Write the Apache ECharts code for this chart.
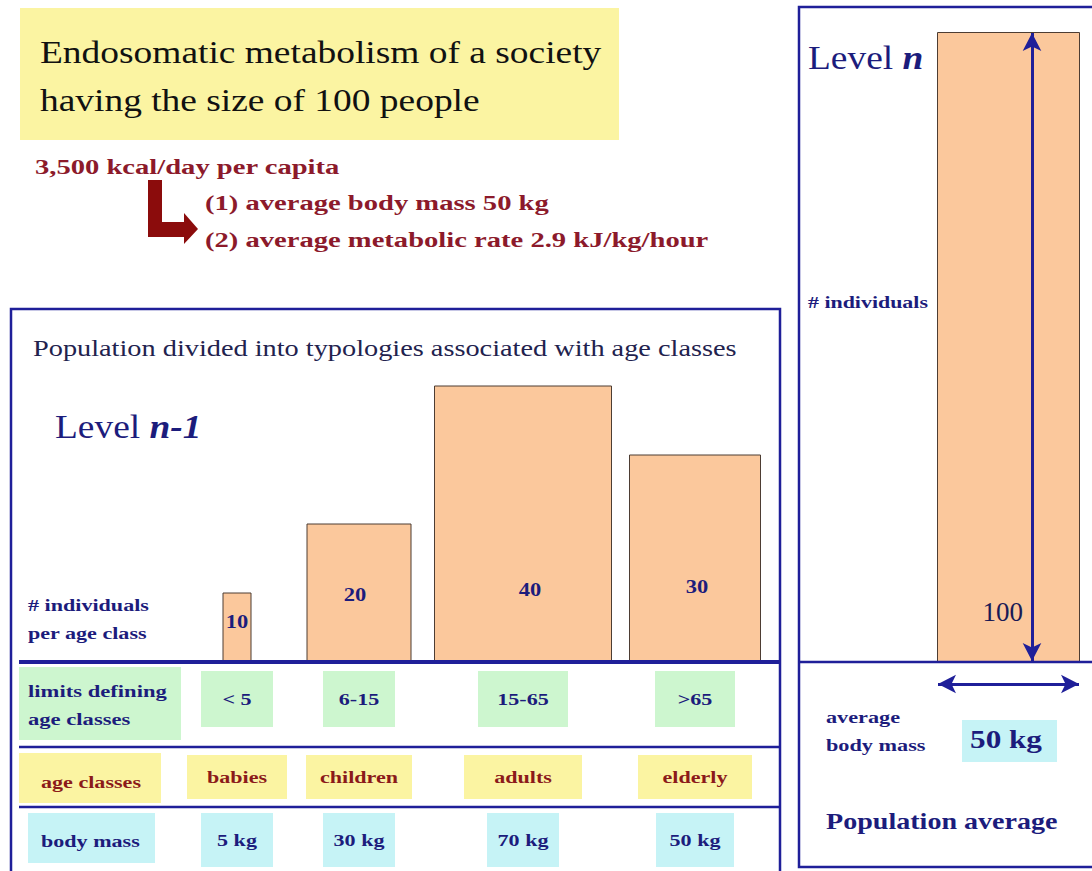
<!DOCTYPE html>
<html>
<head>
<meta charset="utf-8">
<script src="https://cdn.jsdelivr.net/npm/echarts@6/dist/echarts.min.js"></script>
<style>
  html, body { margin: 0; padding: 0; background: #fff; }
  #chart { width: 1092px; height: 871px; }
</style>
</head>
<body>
<div id="chart"></div>
<script>
// Level n-1: population split into age classes
const ageClasses = ['babies', 'children', 'adults', 'elderly'];
const ageLimits = ['< 5', '6-15', '15-65', '>65'];
const bodyMassKg = [5, 30, 70, 50];
const individuals = [10, 20, 40, 30];

// Level n: the whole society
const populationTotal = [100];
const averageBodyMassKg = 50;

// layout (pixels) — kept apart from the data
const barCenters = [237, 359, 523, 695];
const barWidths = [28, 104, 177, 131];
const labelLift = [40, 67, 72, 75];
const labelShift = [0, -4, 7, 2];
const limitBoxW = [72, 72, 90, 80];
const classBoxW = [100, 106, 118, 114];
const massBoxW = [72, 72, 72, 78];

const SERIF = "'Liberation Serif', 'DejaVu Serif', serif";
const NAVY = '#1f1f99';
const NAVY_TXT = '#1c1c7c';
const RED = '#8c1a2b';
const PEACH = '#fbc89c';
const YELLOW = '#fbf4a2';
const GREEN = '#cdf6cf';
const CYAN = '#c6f3f6';
const WIDE = 1.3; // the slide's bold labels are stretched sideways

const chart = echarts.init(document.getElementById('chart'), null, { renderer: 'svg' });

function txt(text, x, y, size, color, opts = {}) {
  return {
    type: 'text', z: 20, x, y, scaleX: opts.sx || 1,
    style: Object.assign({
      text, fill: color, font: `${opts.weight || 'normal'} ${size}px ${SERIF}`,
      align: opts.align || 'left', verticalAlign: 'middle', lineHeight: opts.lineHeight || size * 1.2,
    }, opts.style || {}),
  };
}
function box(x, y, w, h, fill) {
  return { type: 'rect', z: 5, shape: { x, y, width: w, height: h }, style: { fill } };
}
function line(x1, y1, x2, y2, width) {
  return { type: 'line', z: 30, shape: { x1, y1, x2, y2 }, style: { stroke: NAVY, lineWidth: width } };
}
function level(text, x, y) {
  return {
    type: 'text', z: 20, x, y, scaleX: 1.1,
    style: {
      text, fill: NAVY_TXT, font: `34px ${SERIF}`, verticalAlign: 'middle',
      rich: { b: { fontFamily: SERIF, fontSize: 34, fontWeight: 'bold', fontStyle: 'italic', fill: NAVY_TXT } },
    },
  };
}

const graphic = [
  // title
  box(20, 8, 599, 132, YELLOW),
  txt('Endosomatic metabolism of a society', 40, 52, 32, '#111', { sx: 1.17 }),
  txt('having the size of 100 people', 40, 100, 32, '#111', { sx: 1.17 }),
  // per capita
  txt('3,500 kcal/day per capita', 35, 167, 22, RED, { weight: 'bold', sx: WIDE }),
  txt('(1) average body mass 50 kg', 205, 203, 22, RED, { weight: 'bold', sx: WIDE }),
  txt('(2) average metabolic rate 2.9 kJ/kg/hour', 205, 240, 22, RED, { weight: 'bold', sx: WIDE }),
  {
    type: 'polygon', z: 20,
    shape: { points: [[148, 180], [162, 180], [162, 222], [184, 222], [184, 213], [198, 229], [184, 244], [184, 237], [148, 237]] },
    style: { fill: '#8b0c0c' },
  },

  // left panel
  { type: 'rect', z: 30, shape: { x: 11, y: 309, width: 769, height: 580 }, style: { fill: 'none', stroke: NAVY, lineWidth: 2.5 } },
  txt('Population divided into typologies associated with age classes', 33, 348, 24, '#22224e', { sx: 1.18 }),
  level('Level {b|n-1}', 55, 427),
  txt('# individuals\nper age class', 28, 619, 17, NAVY_TXT, { weight: 'bold', lineHeight: 28, sx: WIDE }),
  line(19, 662, 779, 662, 4),
  line(19, 747, 779, 747, 2.5),
  line(19, 807, 779, 807, 2.5),
  box(19, 667, 162, 73, GREEN),
  txt('limits defining\nage classes', 28, 705, 17, NAVY_TXT, { weight: 'bold', lineHeight: 28, sx: 1.33 }),
  box(19, 753, 142, 50, YELLOW),
  txt('age classes', 41, 782, 17, '#8b1a1a', { weight: 'bold', sx: WIDE }),
  box(28, 813, 127, 50, CYAN),
  txt('body mass', 41, 841, 17, NAVY_TXT, { weight: 'bold', sx: WIDE }),

  // right panel
  { type: 'rect', z: 30, shape: { x: 799, y: 7, width: 300, height: 860 }, style: { fill: 'none', stroke: NAVY, lineWidth: 2.5 } },
  line(799, 662, 1092, 662, 2.5),
  level('Level {b|n}', 808, 58),
  txt('# individuals', 808, 303, 16, NAVY_TXT, { weight: 'bold', sx: 1.37 }),
  txt('average\nbody mass', 826, 732, 16, NAVY_TXT, { weight: 'bold', lineHeight: 28, sx: 1.39 }),
  box(962, 720, 95, 42, CYAN),
  txt(averageBodyMassKg + ' kg', 1006, 739, 26, NAVY_TXT, { weight: 'bold', align: 'center', sx: 1.2 }),
  txt('Population average', 826, 821, 24, NAVY_TXT, { weight: 'bold', sx: 1.17 }),
];

function barItem(params, api) {
  const i = params.dataIndex;
  const top = api.coord([api.value(0), api.value(1)]);
  const base = api.coord([api.value(0), 0]);
  const w = barWidths[i];
  return {
    type: 'group',
    children: [
      {
        type: 'rect',
        shape: { x: top[0] - w / 2, y: top[1], width: w, height: base[1] - top[1] },
        style: { fill: PEACH, stroke: '#4d3d33', lineWidth: 1 },
      },
      {
        type: 'text', z2: 10,
        x: top[0] + labelShift[i], y: base[1] - labelLift[i], scaleX: 1.25,
        style: {
          text: String(api.value(1)), x: 0, y: 0,
          align: 'center', verticalAlign: 'middle', fill: NAVY_TXT,
          font: `bold 18px ${SERIF}`,
        },
      },
    ],
  };
}

function cell(cx, cy, w, h, fill, text, color) {
  return [
    { type: 'rect', shape: { x: cx - w / 2, y: cy - h / 2, width: w, height: h }, style: { fill } },
    {
      type: 'text', z2: 10, x: cx, y: cy, scaleX: WIDE,
      style: { text, x: 0, y: 0, align: 'center', verticalAlign: 'middle', fill: color, font: `bold 17px ${SERIF}` },
    },
  ];
}

function tableItem(params, api) {
  const i = params.dataIndex;
  const cx = api.coord([api.value(0), 0])[0];
  return {
    type: 'group',
    children: [
      ...cell(cx, 699, limitBoxW[i], 56, GREEN, ageLimits[i], NAVY_TXT),
      ...cell(cx, 777, classBoxW[i], 44, YELLOW, ageClasses[i], '#8b1a1a'),
      ...cell(cx, 840, massBoxW[i], 54, CYAN, bodyMassKg[i] + ' kg', NAVY_TXT),
    ],
  };
}

chart.setOption({
  animation: false,
  backgroundColor: '#fff',
  grid: [
    { left: 0, right: 0, top: 386, bottom: 209 },
    { left: 937, right: 12, top: 32, bottom: 209 },
  ],
  xAxis: [
    { type: 'value', gridIndex: 0, min: 0, max: 1092, show: false },
    { type: 'category', gridIndex: 1, data: ['Population average'], show: false },
  ],
  yAxis: [
    { type: 'value', gridIndex: 0, min: 0, max: 40, show: false },
    { type: 'value', gridIndex: 1, min: 0, max: 100, show: false },
  ],
  series: [
    {
      name: 'individuals per age class', type: 'custom', xAxisIndex: 0, yAxisIndex: 0,
      renderItem: barItem, clip: false, z: 3,
      encode: { x: 0, y: 1 },
      data: individuals.map((v, i) => [barCenters[i], v]),
    },
    {
      name: 'age class table', type: 'custom', xAxisIndex: 0, yAxisIndex: 0,
      renderItem: tableItem, clip: false, z: 6,
      encode: { x: 0, y: 1 },
      data: ageClasses.map((c, i) => [barCenters[i], 0]),
    },
    {
      name: 'individuals', type: 'bar', xAxisIndex: 1, yAxisIndex: 1,
      barWidth: '100%', z: 3,
      itemStyle: { color: PEACH, borderColor: '#4d3d33', borderWidth: 1 },
      label: {
        show: true, position: ['46%', 580], align: 'center', verticalAlign: 'middle',
        color: '#1a1a55', fontFamily: SERIF, fontSize: 27,
      },
      data: populationTotal,
      markLine: {
        silent: true, symbol: ['arrow', 'arrow'], symbolSize: [14, 18],
        label: { show: false },
        lineStyle: { color: NAVY, width: 3, type: 'solid' },
        data: [
          [{ x: 1032, y: 33 }, { x: 1032, y: 661 }],
          [{ x: 938, y: 684 }, { x: 1079, y: 684 }],
        ],
      },
    },
  ],
  graphic,
});
</script>
</body>
</html>
